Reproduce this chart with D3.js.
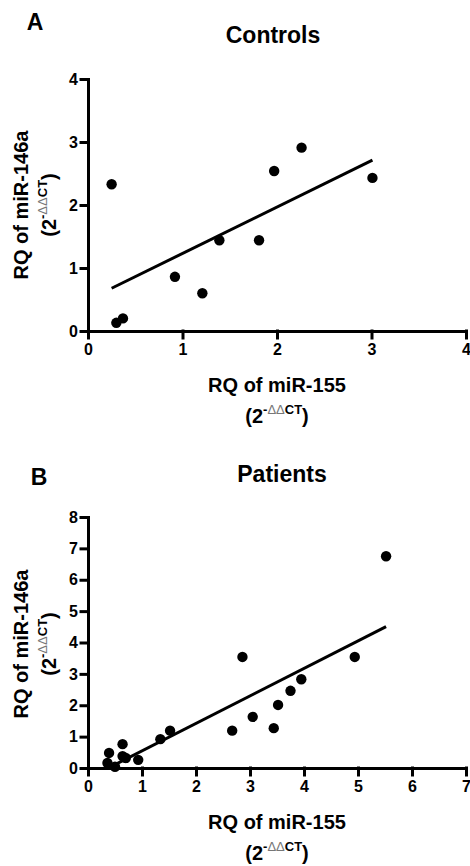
<!DOCTYPE html>
<html>
<head>
<meta charset="utf-8">
<script src="https://cdn.jsdelivr.net/npm/d3@7"></script>
<style>
  body { margin: 0; background: #fff; }
  svg { font-family: "Liberation Sans", Arial, sans-serif; }
</style>
</head>
<body>
<div id="chart"></div>
<script>
// data
const controlsX = [0.25, 0.30, 0.37, 0.92, 1.21, 1.39, 1.81, 1.97, 2.26, 3.01];
const controlsY = [2.33, 0.13, 0.20, 0.86, 0.60, 1.44, 1.44, 2.54, 2.91, 2.43];

const patientsX = [0.36, 0.39, 0.50, 0.64, 0.64, 0.70, 0.93, 1.34, 1.52, 2.67, 2.86, 3.05, 3.44, 3.52, 3.75, 3.95, 4.94, 5.52];
const patientsY = [0.16, 0.48, 0.04, 0.76, 0.38, 0.32, 0.26, 0.92, 1.19, 1.19, 3.54, 1.63, 1.27, 2.01, 2.46, 2.83, 3.54, 6.75];

const controlsXTicks = [0, 1, 2, 3, 4];
const controlsYTicks = [0, 1, 2, 3, 4];
const patientsXTicks = [0, 1, 2, 3, 4, 5, 6, 7];
const patientsYTicks = [0, 1, 2, 3, 4, 5, 6, 7, 8];

const width = 470, height = 866;

const svg = d3.select("#chart").append("svg")
    .attr("width", width)
    .attr("height", height);

// least squares fit, drawn from min x to max x
function fit(xs, ys) {
  const mx = d3.mean(xs), my = d3.mean(ys);
  let sxy = 0, sxx = 0;
  xs.forEach((x, i) => { sxy += (x - mx) * (ys[i] - my); sxx += (x - mx) * (x - mx); });
  const b = sxy / sxx, a = my - b * mx;
  const x0 = d3.min(xs), x1 = d3.max(xs);
  return [[x0, a + b * x0], [x1, a + b * x1]];
}

// "(2^-ΔΔCT)" with the superscript
function powerLabel(t) {
  t.append("tspan").attr("font-weight", "bold").text("(2");
  t.append("tspan").attr("font-weight", "bold").attr("font-size", 13).attr("dy", -9).text("-");
  t.append("tspan").attr("font-weight", "normal").attr("font-size", 13).attr("fill", "#777").text("\u0394\u0394");
  t.append("tspan").attr("font-weight", "bold").attr("font-size", 13).text("CT");
  t.append("tspan").attr("font-weight", "bold").attr("dy", 9).text(")");
}

function panel(opt) {
  const x = d3.scaleLinear().domain(opt.xDomain).range([88, 466]);
  const y = d3.scaleLinear().domain(opt.yDomain).range(opt.yRange);
  const g = svg.append("g");
  const base = opt.yRange[0];

  // letter and title
  g.append("text").attr("x", opt.letterX).attr("y", opt.letterY)
    .attr("text-anchor", "middle").attr("font-weight", "bold").attr("font-size", 23)
    .text(opt.letter);
  g.append("text").attr("x", opt.titleX).attr("y", opt.titleY)
    .attr("text-anchor", "middle").attr("font-weight", "bold").attr("font-size", 23)
    .text(opt.title);

  // axes
  const fmt = d3.format("d");
  const xa = g.append("g").attr("transform", `translate(0,${base})`)
    .call(d3.axisBottom(x).tickValues(opt.xTicks).tickFormat(fmt).tickSize(7).tickSizeOuter(0).tickPadding(6));
  const ya = g.append("g").attr("transform", "translate(88,0)")
    .call(d3.axisLeft(y).tickValues(opt.yTicks).tickFormat(fmt).tickSize(7).tickSizeOuter(0).tickPadding(3));
  [xa, ya].forEach(a => {
    a.selectAll("path, line").attr("stroke", "#000").attr("stroke-width", 3).attr("stroke-linecap", "square");
    a.selectAll("text").attr("fill", "#000").attr("font-size", 16).attr("font-weight", "bold")
      .attr("font-family", "'Liberation Sans', Arial, sans-serif");
  });

  // regression line
  const f = fit(opt.xs, opt.ys);
  g.append("line")
    .attr("x1", x(f[0][0])).attr("y1", y(f[0][1]))
    .attr("x2", x(f[1][0])).attr("y2", y(f[1][1]))
    .attr("stroke", "#000").attr("stroke-width", 3);

  // points
  g.selectAll("circle").data(opt.xs).join("circle")
    .attr("cx", d => x(d))
    .attr("cy", (d, i) => y(opt.ys[i]))
    .attr("r", 5.2)
    .attr("fill", "#000");

  // x labels
  g.append("text").attr("x", 277).attr("y", base + 61)
    .attr("text-anchor", "middle").attr("font-weight", "bold").attr("font-size", 20)
    .text("RQ of miR-155");
  const xp = g.append("text").attr("x", 277).attr("y", base + 92)
    .attr("text-anchor", "middle").attr("font-size", 20);
  powerLabel(xp);

  // y labels
  g.append("text").attr("transform", `translate(28,${opt.yLabelMid}) rotate(-90)`)
    .attr("text-anchor", "middle").attr("font-weight", "bold").attr("font-size", 20)
    .text("RQ of miR-146a");
  const yp = g.append("text").attr("transform", `translate(56,${opt.yLabelMid}) rotate(-90)`)
    .attr("text-anchor", "middle").attr("font-size", 20);
  powerLabel(yp);
}

panel({
  letter: "A", letterX: 35, letterY: 30,
  title: "Controls", titleX: 273, titleY: 43,
  xDomain: [0, 4], yDomain: [0, 4], yRange: [331, 79],
  xTicks: controlsXTicks, yTicks: controlsYTicks,
  xs: controlsX, ys: controlsY,
  yLabelMid: 205
});

panel({
  letter: "B", letterX: 39, letterY: 485,
  title: "Patients", titleX: 282, titleY: 482,
  xDomain: [0, 7], yDomain: [0, 8], yRange: [768, 517],
  xTicks: patientsXTicks, yTicks: patientsYTicks,
  xs: patientsX, ys: patientsY,
  yLabelMid: 644
});
</script>
</body>
</html>
